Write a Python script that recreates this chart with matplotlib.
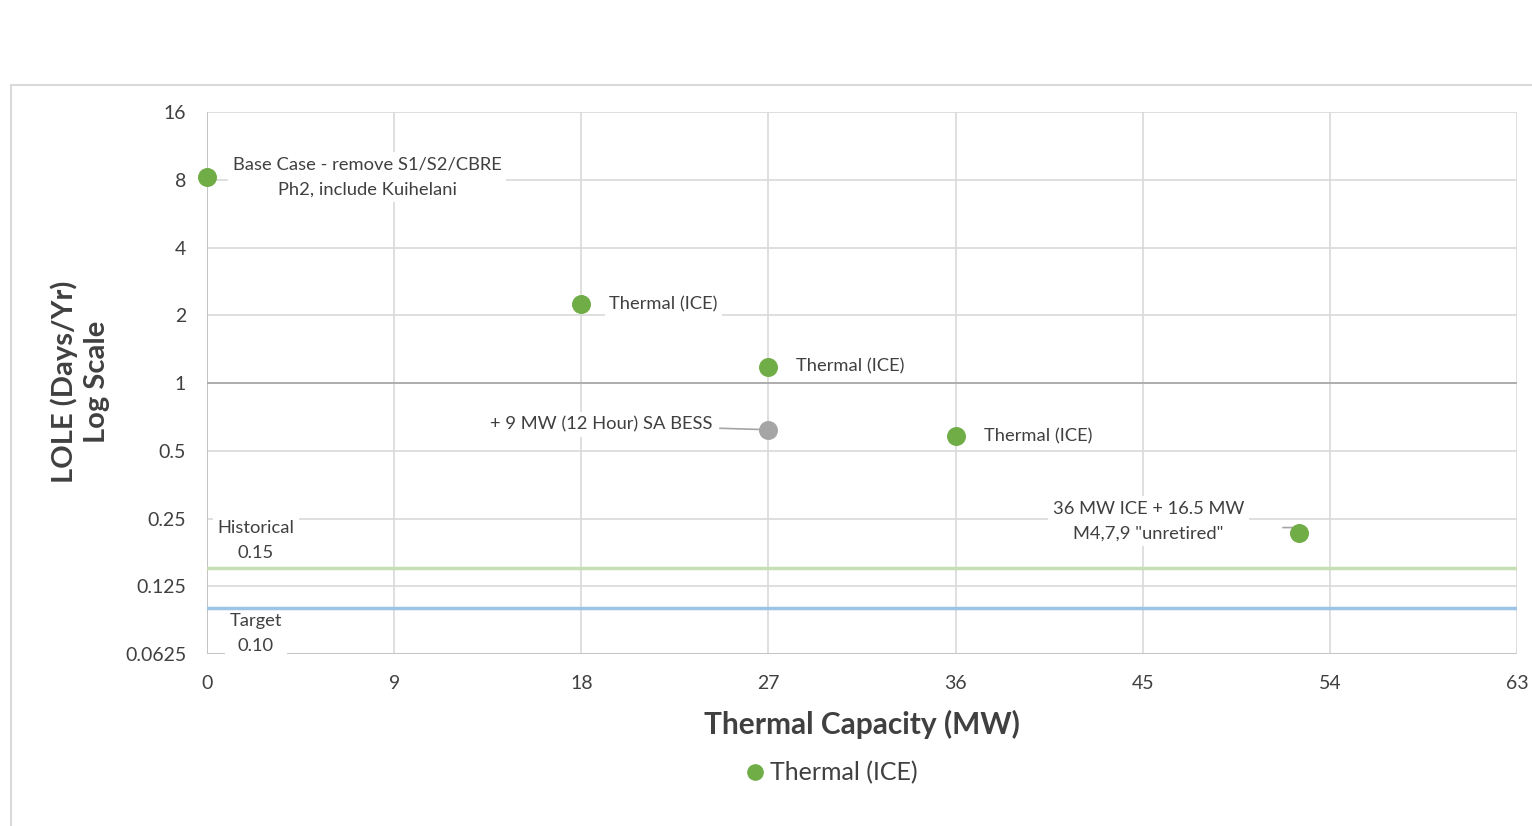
import numpy as np
import matplotlib.pyplot as plt
from matplotlib.patches import Rectangle
from matplotlib.lines import Line2D

plt.rcParams['font.family'] = ['Lato', 'DejaVu Sans']

# ---- data ----
thermal_mw = [0, 18, 27, 36, 52.5]
thermal_lole = [8.2, 2.24, 1.18, 0.58, 0.215]
thermal_labels = ['Base Case - remove S1/S2/CBRE\nPh2, include Kuihelani',
                  'Thermal (ICE)', 'Thermal (ICE)', 'Thermal (ICE)',
                  '36 MW ICE + 16.5 MW\nM4,7,9 "unretired"']
bess_mw = [27]
bess_lole = [0.62]
bess_label = '+ 9 MW (12 Hour) SA BESS'
historical = 0.15
target = 0.10
x_ticks = [0, 9, 18, 27, 36, 45, 54, 63]
y_ticks = [0.0625, 0.125, 0.25, 0.5, 1, 2, 4, 8, 16]
y_ticklabels = ['0.0625', '0.125', '0.25', '0.5', '1', '2', '4', '8', '16']

green = '#70AD47'
grey = '#A5A5A5'
txt = '#404040'

fig = plt.figure(figsize=(15.32, 8.26), dpi=100)
fig.patches.append(Rectangle((11 / 1532, -0.1), 1.2, 1 - 85 / 826 + 0.1,
                             transform=fig.transFigure, fill=False,
                             edgecolor='#D9D9D9', linewidth=1.5))
ax = fig.add_axes([207 / 1532, 1 - 654 / 826, 1310 / 1532, 542 / 826])

ax.set_yscale('log', base=2)
ax.set_ylim(0.0625, 16)
ax.set_xlim(0, 63)
ax.set_xticks(x_ticks)
ax.set_yticks(y_ticks)
ax.set_yticklabels(y_ticklabels)
ax.minorticks_off()
ax.tick_params(length=0, labelsize=14, labelcolor=txt, pad=15)
ax.grid(True, color='#D9D9D9', linewidth=1.2)
ax.set_axisbelow(True)
for s in ax.spines.values():
    s.set_visible(False)
ax.axvline(0, color='#BFBFBF', linewidth=1.2, zorder=1)
ax.axhline(0.0625, color='#BFBFBF', linewidth=1.2, zorder=1)
ax.axhline(1, color='#A6A6A6', linewidth=1.2, zorder=1)

# reference lines (drawn above the label boxes)
ax.axhline(historical, color='#C5E0B4', linewidth=2.5, zorder=3)
ax.axhline(target, color='#9DC3E6', linewidth=2.5, zorder=3)
box = dict(boxstyle='square,pad=0.25', fc='white', ec='none')
ax.annotate('Historical\n%.2f' % historical, (0, historical), xytext=(49, 28),
            textcoords='offset pixels', ha='center', va='center', fontsize=13.2,
            color=txt, linespacing=1.7, bbox=box, zorder=2.5)
ax.annotate('Target\n%.2f' % target, (0, target), xytext=(49, -25),
            textcoords='offset pixels', ha='center', va='center', fontsize=13.2,
            color=txt, linespacing=1.7, bbox=box, zorder=2.5)

ax.scatter(thermal_mw, thermal_lole, s=160, color=green, zorder=5, clip_on=False)
ax.scatter(bess_mw, bess_lole, s=160, color=grey, zorder=5)

# data labels
offsets = [(160, 0), (28, 0), (28, 0), (28, 0), (-150, 12)]
aligns = ['center', 'left', 'left', 'left', 'center']
for x, y, lab, off, ha in zip(thermal_mw, thermal_lole, thermal_labels, offsets, aligns):
    ax.annotate(lab, (x, y), xytext=off, textcoords='offset pixels', ha=ha,
                va='center', fontsize=13.2, color=txt, linespacing=1.7,
                bbox=box, zorder=4)
ax.plot([thermal_mw[-1], thermal_mw[-1] - 0.3, thermal_mw[-1] - 0.75],
        [thermal_lole[-1], thermal_lole[-1] * 1.06, thermal_lole[-1] * 1.06],
        color=grey, linewidth=1.2, zorder=4)
ax.annotate(bess_label, (bess_mw[0], bess_lole[0]), xytext=(-56, 5),
            textcoords='offset pixels', ha='right', va='center', fontsize=13.2,
            color=txt, bbox=box, zorder=4,
            arrowprops=dict(arrowstyle='-', color=grey, lw=1.2,
                            shrinkA=2, shrinkB=6))

fig.text(862 / 1532, 1 - 724 / 826, 'Thermal Capacity (MW)', ha='center',
         va='center', fontsize=21.5, fontweight='bold', color=txt)
fig.text(80 / 1532, 1 - 382 / 826, 'LOLE (Days/Yr)\nLog Scale', ha='center',
         va='center', fontsize=21, fontweight='bold', color=txt, rotation=90,
         linespacing=1.3)

handle = Line2D([], [], marker='o', linestyle='none', markersize=11,
                markerfacecolor=green, markeredgecolor=green)
fig.legend([handle], ['Thermal (ICE)'], loc='center',
           bbox_to_anchor=(830 / 1532, 1 - 773 / 826), frameon=False,
           fontsize=18, labelcolor=txt, handletextpad=0.1, handlelength=1)

fig.savefig('out.png', dpi=100)
